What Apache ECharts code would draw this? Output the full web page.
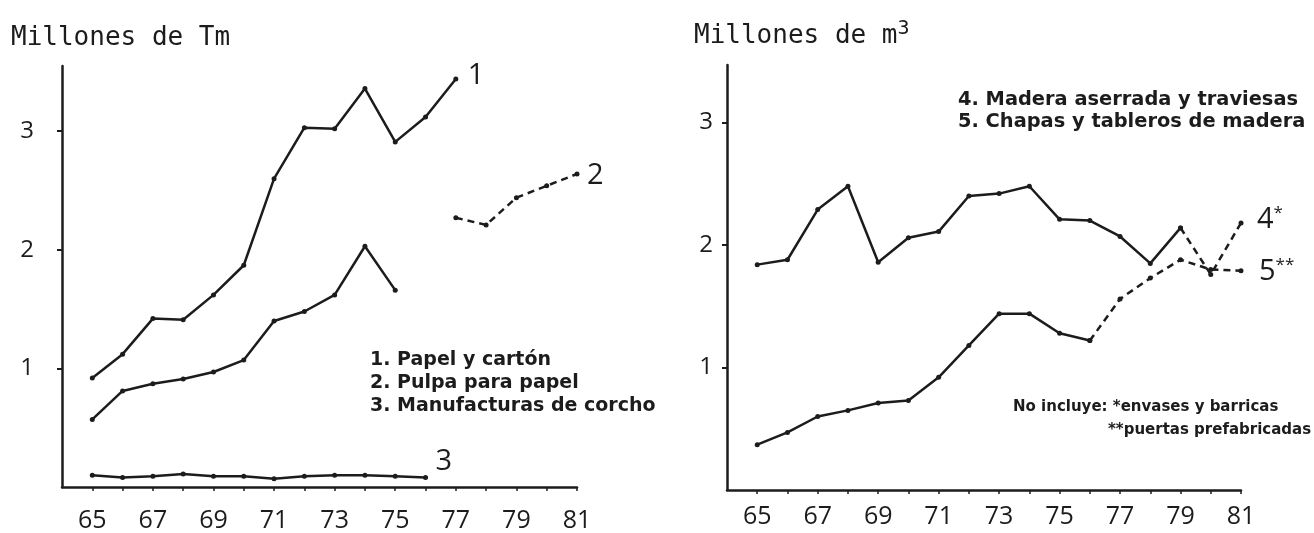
<!DOCTYPE html>
<html>
<head>
<meta charset="utf-8">
<title>Comercio exterior de productos forestales</title>
<script src="https://cdn.jsdelivr.net/npm/echarts@6/dist/echarts.min.js"></script>
<style>
    html, body { margin: 0; padding: 0; background: #fff; }
    #chart { width: 1314px; height: 533px; }
</style>
</head>
<body>
<div id="chart"></div>
<script>
// Years on both x axes, labels only on odd years
var allYears = [65, 66, 67, 68, 69, 70, 71, 72, 73, 74, 75, 76, 77, 78, 79, 80, 81];
var labelYears = [65, 67, 69, 71, 73, 75, 77, 79, 81];
var yLabels = [1, 2, 3];

// Left chart: millones de Tm
var yearsPapel = [65, 66, 67, 68, 69, 70, 71, 72, 73, 74, 75, 76, 77];
var papel = [0.92, 1.12, 1.42, 1.41, 1.62, 1.87, 2.6, 3.03, 3.02, 3.36, 2.91, 3.12, 3.44];

var yearsPulpa = [65, 66, 67, 68, 69, 70, 71, 72, 73, 74, 75];
var pulpa = [0.57, 0.81, 0.87, 0.91, 0.97, 1.07, 1.4, 1.48, 1.62, 2.03, 1.66];
var yearsPulpaLate = [77, 78, 79, 80, 81];
var pulpaLate = [2.27, 2.21, 2.44, 2.54, 2.64];

var yearsCorcho = [65, 66, 67, 68, 69, 70, 71, 72, 73, 74, 75, 76];
var corcho = [0.1, 0.08, 0.09, 0.11, 0.09, 0.09, 0.07, 0.09, 0.1, 0.1, 0.09, 0.08];

// Right chart: millones de m3
var yearsMadera = [65, 66, 67, 68, 69, 70, 71, 72, 73, 74, 75, 76, 77, 78, 79];
var madera = [1.84, 1.88, 2.29, 2.48, 1.86, 2.06, 2.11, 2.4, 2.42, 2.48, 2.21, 2.2, 2.07, 1.85, 2.14];
var yearsMaderaLate = [79, 80, 81];
var maderaLate = [2.14, 1.76, 2.18];

var yearsChapas = [65, 66, 67, 68, 69, 70, 71, 72, 73, 74, 75, 76];
var chapas = [0.37, 0.47, 0.6, 0.65, 0.71, 0.73, 0.92, 1.18, 1.44, 1.44, 1.28, 1.22];
var yearsChapasLate = [76, 77, 78, 79, 80, 81];
var chapasLate = [1.22, 1.56, 1.73, 1.88, 1.8, 1.79];

var ink = '#1c1c1c';
var numFont = '"Open Sans", sans-serif';
var textFont = '"DejaVu Sans", sans-serif';
var monoFont = '"DejaVu Sans Mono", monospace';

function pairs(xs, ys) {
    return xs.map(function(x, i) { return [x, ys[i]]; });
}

function xAxisFor(gridIndex, margin) {
    return {
        gridIndex: gridIndex,
        type: 'value',
        min: 64,
        max: 81,
        interval: 1,
        splitLine: { show: false },
        axisLine: { lineStyle: { color: ink, width: 2.5 } },
        axisTick: { customValues: allYears, length: 4, lineStyle: { color: ink, width: 1.5 } },
        axisLabel: {
            customValues: labelYears,
            margin: margin,
            color: ink,
            fontFamily: numFont,
            fontSize: 25
        }
    };
}

function yAxisFor(gridIndex, max, margin) {
    return {
        gridIndex: gridIndex,
        type: 'value',
        min: 0,
        max: max,
        interval: 1,
        splitLine: { show: false },
        axisLine: { show: true, lineStyle: { color: ink, width: 2.5 } },
        axisTick: { show: true, customValues: yLabels, length: 5, lineStyle: { color: ink, width: 2 } },
        axisLabel: {
            customValues: yLabels,
            margin: margin,
            color: ink,
            fontFamily: numFont,
            fontSize: 24
        }
    };
}

function line(name, xi, data, dashed, label, labelOffset) {
    var s = {
        name: name,
        type: 'line',
        xAxisIndex: xi,
        yAxisIndex: xi,
        data: data,
        symbol: 'circle',
        symbolSize: 5,
        itemStyle: { color: ink },
        lineStyle: { color: ink, width: 2.5, type: dashed ? [7, 5] : 'solid' },
        animation: false,
        z: 3
    };
    if (label) {
        s.endLabel = {
            show: true,
            formatter: label,
            offset: labelOffset || [0, 0],
            color: ink,
            fontFamily: numFont,
            fontSize: 29,
            rich: {
                sup: { fontSize: 17, fontFamily: numFont, color: ink, verticalAlign: 'top', padding: [0, 0, 14, 0] }
            }
        };
    }
    return s;
}

var chart = echarts.init(document.getElementById('chart'));

var option = {
    backgroundColor: '#fff',
    animation: false,
    grid: [
        { left: 62, top: 66, width: 515, height: 426 },
        { left: 727, top: 65, width: 514, height: 425 }
    ],
    xAxis: [xAxisFor(0, 21), xAxisFor(1, 14)],
    yAxis: [yAxisFor(0, 3.55, 28), yAxisFor(1, 3.47, 14)],
    series: [
        line('Papel y cartón', 0, pairs(yearsPapel, papel), false, '1', [4, -3]),
        line('Pulpa para papel', 0, pairs(yearsPulpa, pulpa), false),
        line('Pulpa para papel (77-81)', 0, pairs(yearsPulpaLate, pulpaLate), true, '2', [2, 2]),
        line('Manufacturas de corcho', 0, pairs(yearsCorcho, corcho), false, '3', [2, -16]),
        line('Madera aserrada y traviesas', 1, pairs(yearsMadera, madera), false),
        line('Madera aserrada y traviesas (79-81)', 1, pairs(yearsMaderaLate, maderaLate), true, '4{sup|*}', [8, -3]),
        line('Chapas y tableros de madera', 1, pairs(yearsChapas, chapas), false),
        line('Chapas y tableros de madera (76-81)', 1, pairs(yearsChapasLate, chapasLate), true, '5{sup|**}', [10, 1])
    ],
    graphic: [
        {
            type: 'text', left: 11, top: 25,
            style: { text: 'Millones de Tm', font: '26px ' + monoFont, fill: ink }
        },
        {
            type: 'text', left: 694, top: 19,
            style: {
                text: 'Millones de m{sup|3}',
                font: '26px ' + monoFont,
                fill: ink,
                rich: { sup: { font: '20px ' + monoFont, fill: ink, verticalAlign: 'top', padding: [0, 0, 14, 0] } }
            }
        },
        {
            type: 'text', left: 370, top: 349,
            style: {
                text: '1. Papel y cartón\n2. Pulpa para papel\n3. Manufacturas de corcho',
                font: 'bold 19px ' + textFont,
                lineHeight: 23,
                fill: ink
            }
        },
        {
            type: 'text', left: 958, top: 89,
            style: {
                text: '4. Madera aserrada y traviesas\n5. Chapas y tableros de madera',
                font: 'bold 19.4px ' + textFont,
                lineHeight: 22,
                fill: ink
            }
        },
        {
            type: 'text', left: 1013, top: 400,
            style: {
                text: 'No incluye: *envases y barricas',
                font: 'bold 15px ' + textFont,
                fill: ink
            }
        },
        {
            type: 'text', left: 1108, top: 423,
            style: {
                text: '**puertas prefabricadas',
                font: 'bold 15px ' + textFont,
                fill: ink
            }
        }
    ]
};

chart.setOption(option);
</script>
</body>
</html>
